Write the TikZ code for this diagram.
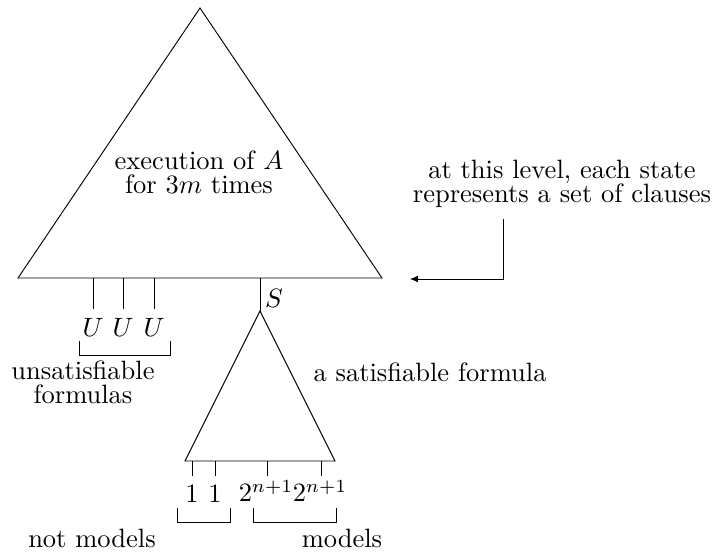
\documentclass[tikz,border=0pt]{standalone}
\usetikzlibrary{arrows.meta}
\begin{document}
\begin{tikzpicture}[x=0.3774pt,y=-0.3774pt,line width=0.35pt,
  lbl/.style={inner sep=0pt,font=\fontsize{10}{9.2}\selectfont,align=center}]
\useasboundingbox (0,0) rectangle (728,554);
% big triangle
\coordinate (A1) at (200,8);
\coordinate (A2) at (18,278);
\coordinate (A3) at (382,278);
\draw (A1) -- (A2) -- (A3) -- cycle;
\node[lbl] (exec) at (199,172) {execution of $A$\\for $3m$ times};
% U branches
\foreach \i/\x in {1/93,2/123,3/154}{
  \coordinate (ut\i) at (\x,278);
  \node[lbl,anchor=center] (u\i) at (\x,327) {$U$};
  \draw (ut\i) -- (\x,309);
}
\coordinate (ub1) at (79,341);
\coordinate (ub2) at (170,341);
\draw (ub1) -- ++(0,14) -| (ub2);
\node[lbl] (unsat) at (83,382) {unsatisfiable\\formulas};
% S branch and small triangle
\coordinate (st) at (260,278);
\coordinate (B1) at (260,311);
\coordinate (B2) at (185,461);
\coordinate (B3) at (335,461);
\draw (st) -- (B1);
\node[lbl] (S) at (274,298) {$S$};
\draw (B1) -- (B2) -- (B3) -- cycle;
\node[lbl] (sat) at (430,372) {a satisfiable formula};
% leaves
\foreach \i/\x in {1/192,2/215,3/267,4/321}{
  \coordinate (lt\i) at (\x,461);
  \draw (lt\i) -- (\x,476);
}
\node[lbl] (l1) at (192,494) {1};
\node[lbl] (l2) at (215,494) {1};
\node[lbl] (l3) at (266,491) {$2^{n+1}$};
\node[lbl] (l4) at (320,491) {$2^{n+1}$};
\coordinate (nb1) at (177,508);
\coordinate (nb2) at (230,508);
\draw (nb1) -- ++(0,14) -| (nb2);
\coordinate (mb1) at (253,508);
\coordinate (mb2) at (336,508);
\draw (mb1) -- ++(0,14) -| (mb2);
\node[lbl] (notm) at (92,538) {not models};
\node[lbl] (mods) at (342,538) {models};
% level annotation
\node[lbl] (lev) at (562,184) {at this level, each state\\represents a set of clauses};
\coordinate (c1) at (503,219);
\coordinate (c2) at (410,279);
\draw[-{Latex[length=3pt,width=2.6pt]}] (c1) |- (c2);
\end{tikzpicture}
\end{document}
